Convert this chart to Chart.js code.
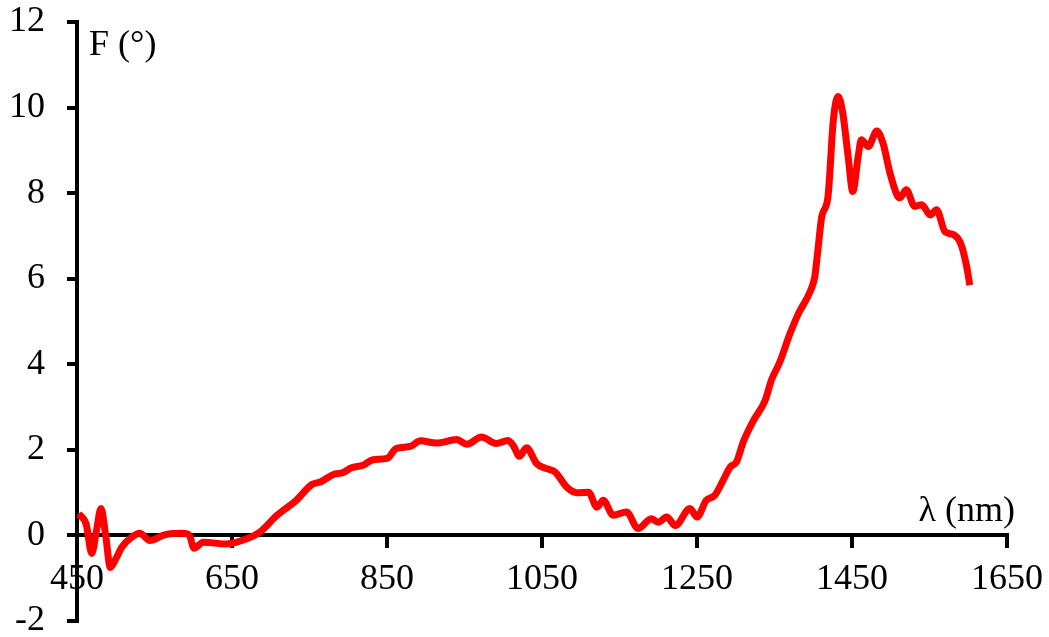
<!DOCTYPE html>
<html>
<head>
<meta charset="utf-8">
<script src="https://cdn.jsdelivr.net/npm/chart.js@4/dist/chart.umd.min.js"></script>
<style>
  html, body { margin: 0; padding: 0; background: #fff; }
  #wrap { width: 1049px; height: 637px; }
</style>
</head>
<body>
<div id="wrap"><canvas id="chart"></canvas></div>
<script>
// wavelength (nm) and F (degrees)
const wavelength = [452, 462, 469, 475, 481, 487, 493, 500, 508, 520, 531, 544, 564, 587, 595, 601, 613, 643, 669, 686,
  708, 733, 753, 764, 783, 792, 804, 819, 832, 850, 862, 880, 893, 914, 940, 953, 972, 991, 1006, 1013,
  1021, 1030, 1043, 1056, 1067, 1082, 1095, 1110, 1121, 1129, 1142, 1159, 1174, 1191, 1200, 1211, 1222, 1241, 1250, 1262,
  1273, 1286, 1293, 1301, 1310, 1323, 1338, 1346, 1357, 1370, 1381, 1396, 1402, 1406, 1411, 1419, 1426, 1432, 1438, 1445,
  1451, 1458, 1462, 1471, 1482, 1490, 1499, 1508, 1512, 1520, 1531, 1540, 1551, 1559, 1570, 1581, 1591, 1598, 1602]
const fValues = [0.51, 0.25, -0.42, 0.1, 0.63, 0.0, -0.75, -0.55, -0.27, -0.05, 0.05, -0.12, 0.02, 0.05, 0.0, -0.3, -0.16, -0.2, -0.08, 0.08,
  0.47, 0.82, 1.19, 1.25, 1.44, 1.46, 1.58, 1.64, 1.77, 1.8, 2.03, 2.08, 2.21, 2.16, 2.24, 2.13, 2.3, 2.15, 2.22, 2.1,
  1.85, 2.05, 1.68, 1.56, 1.48, 1.13, 1.0, 1.01, 0.66, 0.82, 0.47, 0.55, 0.16, 0.39, 0.31, 0.43, 0.23, 0.63, 0.43, 0.82,
  0.94, 1.37, 1.6, 1.72, 2.2, 2.69, 3.16, 3.63, 4.06, 4.72, 5.19, 5.7, 6.05, 6.67, 7.45, 7.92, 9.72, 10.26, 9.88, 8.86,
  8.04, 8.86, 9.25, 9.09, 9.45, 9.17, 8.47, 7.96, 7.89, 8.08, 7.69, 7.73, 7.49, 7.61, 7.1, 7.03, 6.79, 6.28, 5.85]

const xTicks = [450, 650, 850, 1050, 1250, 1450, 1650]
const yTicks = [-2, 0, 2, 4, 6, 8, 10, 12]
const xTitle = 'λ (nm)'
const yTitle = 'F (°)'

const font = { family: "'Liberation Serif', 'Times New Roman', serif", size: 36 }

// axis titles sit inside the plot, like the original
const axisTitles = {
  id: 'axisTitles',
  afterDraw(chart) {
    const { ctx, chartArea } = chart
    const y0 = chart.scales.y.getPixelForValue(0)
    ctx.save()
    ctx.fillStyle = '#000'
    ctx.font = font.size + 'px ' + font.family
    ctx.textBaseline = 'alphabetic'
    ctx.textAlign = 'left'
    ctx.fillText(yTitle, chartArea.left + 12, chartArea.top + 33)
    ctx.textAlign = 'right'
    ctx.fillText(xTitle, chartArea.right + 8, y0 - 14)
    ctx.restore()
  }
}

const noPad = s => { s.paddingTop = 0; s.paddingBottom = 0; s.paddingLeft = 0; s.paddingRight = 0 }

new Chart(document.getElementById('chart'), {
  type: 'line',
  data: {
    datasets: [{
      data: wavelength.map((x, i) => ({ x: x, y: fValues[i] })),
      borderColor: '#ff0000',
      borderWidth: 7,
      pointRadius: 0,
      cubicInterpolationMode: 'monotone',
      fill: false
    }]
  },
  options: {
    responsive: true,
    maintainAspectRatio: false,
    animation: false,
    layout: { padding: { top: 22, right: 42, bottom: 16, left: 0 } },
    plugins: { legend: { display: false }, tooltip: { enabled: false } },
    scales: {
      x: {
        type: 'linear',
        min: 450,
        max: 1650,
        position: { y: 0 },
        afterBuildTicks: s => { s.ticks = xTicks.map(v => ({ value: v })) },
        afterFit: noPad,
        ticks: { color: '#000', font: font, padding: 12, maxRotation: 0, callback: v => String(v) },
        grid: { drawOnChartArea: false, color: '#000', lineWidth: 4, tickLength: 11 },
        border: { color: '#000', width: 4 }
      },
      y: {
        min: -2,
        max: 12,
        afterBuildTicks: s => { s.ticks = yTicks.map(v => ({ value: v })) },
        afterFit: s => { noPad(s); s.width = 77 },
        ticks: { color: '#000', font: font, padding: 22, callback: v => String(v) },
        grid: { drawOnChartArea: false, color: '#000', lineWidth: 4, tickLength: 10 },
        border: { color: '#000', width: 4 }
      }
    }
  },
  plugins: [axisTitles]
})
</script>
</body>
</html>
